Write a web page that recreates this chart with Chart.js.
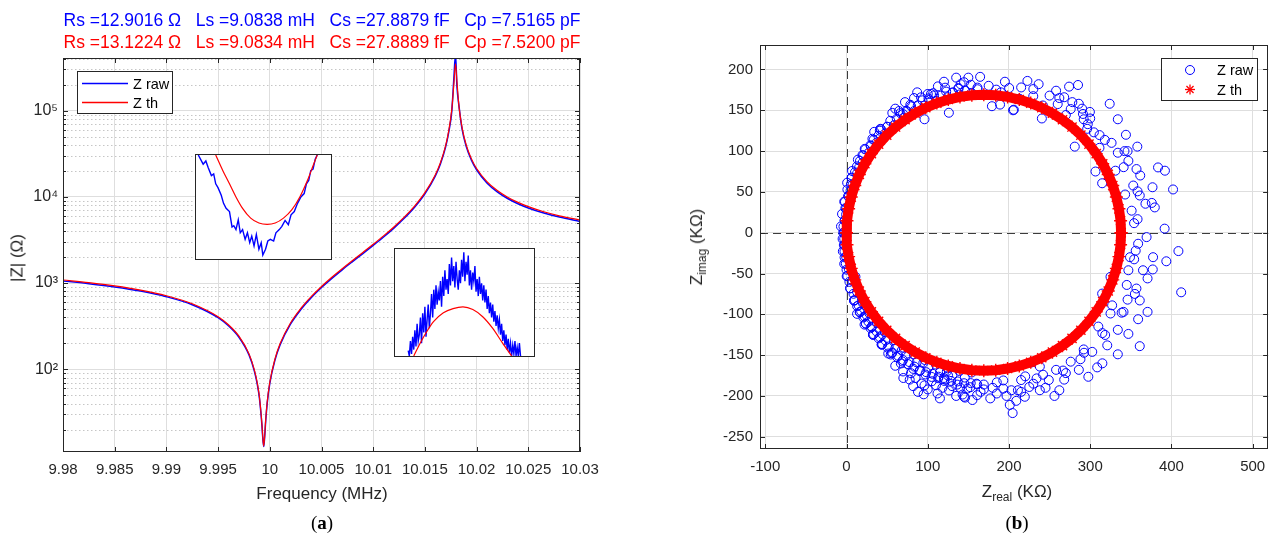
<!DOCTYPE html>
<html>
<head>
<meta charset="utf-8">
<script src="https://cdn.jsdelivr.net/npm/chart.js@4/dist/chart.umd.min.js"></script>
<style>
  body { margin: 0; width: 1276px; height: 542px; position: relative; overflow: hidden; background: #fff;
         font-family: "Liberation Sans", Arial, sans-serif; color: #262626; }
  canvas { position: absolute; }
  .txt { position: absolute; white-space: pre; line-height: 1; transform: translate(-50%, -50%); }
  .rot { transform: translate(-50%, -50%) rotate(-90deg); }
  .ttl { font-size: 17.5px; }
  .lbl { font-size: 17px; }
  .cap { font-family: "Liberation Serif", "DejaVu Serif", serif; font-size: 19px; color: #000; }
  .inset { position: absolute; box-sizing: border-box; border: 1px solid #262626; background: #fff; }
  .inset canvas { left: 0; top: 0; }
  sub { font-size: 12px; vertical-align: -4px; }
</style>
</head>
<body>
<canvas id="magChart" width="640" height="542" style="left:0;top:0"></canvas>
<canvas id="nyqChart" width="636" height="542" style="left:640px;top:0"></canvas>
<div class="inset" style="left:195px;top:154px;width:137px;height:106px"><canvas id="dipInset" width="135" height="104"></canvas></div>
<div class="inset" style="left:394px;top:248px;width:141px;height:109px"><canvas id="peakInset" width="139" height="107"></canvas></div>

<div class="txt ttl" style="left:322px;top:21px;color:#0000ff">Rs =12.9016 Ω   Ls =9.0838 mH   Cs =27.8879 fF   Cp =7.5165 pF</div>
<div class="txt ttl" style="left:322px;top:43px;color:#ff0000">Rs =13.1224 Ω   Ls =9.0834 mH   Cs =27.8889 fF   Cp =7.5200 pF</div>
<div class="txt lbl" style="left:322px;top:493px">Frequency (MHz)</div>
<div class="txt lbl rot" style="left:17px;top:258px">|Z| (Ω)</div>
<div class="txt cap" style="left:322px;top:522px">(<b>a</b>)</div>
<div class="txt lbl" style="left:1017px;top:493px">Z<sub>real</sub> (KΩ)</div>
<div class="txt lbl rot" style="left:698px;top:247px">Z<sub>imag</sub> (KΩ)</div>
<div class="txt cap" style="left:1017px;top:522px">(<b>b</b>)</div>

<script>
// ---- (a) |Z| versus frequency ----
const freqMHz = [9.98, 9.9825, 9.985, 9.9875, 9.99, 9.9925, 9.995, 9.996, 9.997, 9.998,
  9.9985, 9.9988, 9.999, 9.99925, 9.9993, 9.99941, 9.9995, 9.9996, 9.99975, 10.0,
  10.0005, 10.001, 10.002, 10.003, 10.004, 10.005, 10.006, 10.007, 10.008, 10.009,
  10.01, 10.011, 10.012, 10.013, 10.014, 10.015, 10.016, 10.0165, 10.017, 10.0173,
  10.0176, 10.0178, 10.01796, 10.0181, 10.0183, 10.0186, 10.019, 10.0195, 10.02, 10.021,
  10.022, 10.023, 10.024, 10.025, 10.0265, 10.028, 10.03];
const zTh = [1085, 1010, 926, 828, 713, 575, 407, 329, 244, 150,
  99, 68.5, 47.5, 22.2, 17.9, 12.9, 16.6, 25.5, 41.7, 70.8,
  132, 199, 344, 508, 696, 913, 1167, 1467, 1826, 2267,
  2818, 3527, 4476, 5805, 7807, 11166, 17953, 24849, 38962, 57800,
  103190, 202000, 347400, 216100, 110270, 63090, 39716, 27538, 21319, 15014,
  11824, 9900, 8613, 7690, 6712, 6026, 5377];
const zRaw = [1060, 985, 903, 808, 695, 561, 397, 320, 237, 146,
  96, 66, 46, 21.5, 17.3, 12.7, 16.2, 24.8, 40.5, 68.8,
  128, 193, 334, 493, 676, 887, 1133, 1424, 1773, 2200,
  2735, 3420, 4340, 5630, 7570, 10830, 17400, 24100, 37800, 56000,
  98000, 235000, 450000, 190000, 112000, 60500, 38300, 26600, 20600, 14500,
  11420, 9560, 8320, 7430, 6480, 5820, 5190];
const freqTicks = [9.98, 9.985, 9.99, 9.995, 10, 10.005, 10.01, 10.015, 10.02, 10.025, 10.03];
const decadeTicks = [100, 1000, 10000, 100000];

// insets (zoomed views, relative units 0..100)
const dipThX = [14.6, 19.9, 24.8, 29.6, 34.5, 40.5, 46.6, 52.7, 58.7, 64.8, 70.9, 76.9, 83, 86.7, 89.8];
const dipThY = [100, 84.9, 72.3, 59.7, 48.7, 39.3, 34.6, 33.3, 34.6, 39.3, 47.2, 59.7, 77, 89.6, 100];
const dipRawX = [1.7, 5.3, 7.3, 9, 11.4, 13.1, 14.6, 16.3, 18.7, 20.4, 22.3, 24.8, 26.7, 28, 29.6, 31.3,
  32.8, 34.5, 36.4, 38.1, 39.8, 41.3, 43, 44.7, 46.6, 48.3, 49.5, 51.5, 53.2, 55.1, 57.5, 59.2,
  61.7, 63.6, 66, 68.4, 70.4, 72.8, 75.2, 77.7, 80.1, 81.8, 83.5, 85, 86.7, 88.3, 89.8];
const dipRawY = [100, 91.2, 94.3, 88, 80.2, 81.8, 72.3, 68.6, 61.3, 53.5, 48.7, 45.6, 30.8, 32, 28.3, 37.7,
  25.2, 28.3, 18.9, 25.2, 15.7, 22, 12.6, 23.6, 9.4, 15.7, 3.8, 9.4, 17.3, 18.9, 17.3, 25.2,
  28.3, 31.4, 37.1, 33, 42.5, 45.6, 53.5, 59.7, 62.9, 72.3, 75.5, 84.9, 86.5, 95.9, 100];
const peakThX = [13.5, 18.2, 22.9, 27.7, 34.8, 41.8, 48.9, 56, 63.1, 70.2, 77.3, 83.9];
const peakThY = [0, 12.2, 22.9, 32.1, 40.4, 44.3, 45.9, 43.4, 36.7, 26, 12.2, 0];
const peakRawX = [9.5, 10.3, 11.1, 11.9, 12.7, 13.5, 14.3, 15.1, 15.9, 16.7, 17.5, 18.3, 19.1, 19.9, 20.7,
  21.5, 22.3, 23.1, 23.9, 24.7, 25.5, 26.3, 27.1, 27.9, 28.7, 29.5, 30.3, 31.1, 31.9, 32.7, 33.5, 34.3,
  35.1, 35.9, 36.7, 37.5, 38.3, 39.1, 39.9, 40.7, 41.5, 42.3, 43.1, 43.9, 44.7, 45.5, 46.3, 47.1, 47.9,
  48.7, 49.5, 50.3, 51.1, 51.9, 52.7, 53.5, 54.3, 55.1, 55.9, 56.7, 57.5, 58.3, 59.1, 59.9, 60.7, 61.5,
  62.3, 63.1, 63.9, 64.7, 65.5, 66.3, 67.1, 67.9, 68.7, 69.5, 70.3, 71.1, 71.9, 72.7, 73.5, 74.3, 75.1,
  75.9, 76.7, 77.5, 78.3, 79.1, 79.9, 80.7, 81.5, 82.3, 83.1, 83.9, 84.7, 85.5, 86.3, 87.1, 87.9, 88.7,
  89.5, 90.3];
const peakRawY = [5, 0, 14, 2, 18, 6, 24, 9, 30, 14, 20, 36, 12, 40, 22, 46, 18, 34, 48, 26,
  40, 58, 36, 62, 44, 66, 48, 60, 52, 70, 46, 74, 56, 80, 62, 72, 58, 86, 66, 92,
  70, 84, 64, 88, 72, 62, 80, 68, 90, 74, 97, 70, 88, 76, 94, 66, 80, 62, 78, 70,
  84, 60, 72, 56, 74, 58, 68, 52, 66, 50, 62, 44, 56, 40, 50, 36, 48, 32, 42, 28,
  38, 26, 34, 20, 30, 14, 24, 10, 20, 6, 16, 3, 12, 0, 10, 2, 14, 0, 8, 0, 12, 0];

// ---- (b) impedance plane, KOhm ----
const thRe = [338, 337.4, 335.4, 332.2, 327.8, 322.2, 315.4, 307.4, 298.5, 288.5, 277.6, 265.9, 253.5,
  240.4, 226.8, 212.7, 198.3, 183.7, 169, 154.3, 139.7, 125.3, 111.2, 97.6, 84.5, 72.1, 60.4, 49.5,
  39.5, 30.6, 22.6, 15.8, 10.2, 5.8, 2.6, 0.6, 0, 0.6, 2.6, 5.8, 10.2, 15.8, 22.6, 30.6, 39.5, 49.5,
  60.4, 72.1, 84.5, 97.6, 111.2, 125.3, 139.7, 154.3, 169, 183.7, 198.3, 212.7, 226.8, 240.4, 253.5,
  265.9, 277.6, 288.5, 298.5, 307.4, 315.4, 322.2, 327.8, 332.2, 335.4, 337.4, 338];
const thIm = [0, 14.7, 29.3, 43.7, 57.8, 71.4, 84.5, 96.9, 108.6, 119.5, 129.5, 138.4, 146.4, 153.2,
  158.8, 163.2, 166.4, 168.4, 169, 168.4, 166.4, 163.2, 158.8, 153.2, 146.4, 138.4, 129.5, 119.5,
  108.6, 96.9, 84.5, 71.4, 57.8, 43.7, 29.3, 14.7, 0, -14.7, -29.3, -43.7, -57.8, -71.4, -84.5,
  -96.9, -108.6, -119.5, -129.5, -138.4, -146.4, -153.2, -158.8, -163.2, -166.4, -168.4, -169,
  -168.4, -166.4, -163.2, -158.8, -153.2, -146.4, -138.4, -129.5, -119.5, -108.6, -96.9, -84.5,
  -71.4, -57.8, -43.7, -29.3, -14.7, 0];

const rawUpperLeft = [[-2.3,15.0],[-1.4,30.0],[1.9,44.8],[5.5,59.5],[10.4,74.0],[16.6,88.0],[23.2,102.1],
  [33.4,113.8],[41.7,127.3],[53.9,137.1],[64.6,149.1],[78.5,156.7],[91.7,165.9],[106.8,171.0],[121.4,177.7],
  [137.8,177.3],[153.1,181.3],[-0.5,22.3],[-1.9,37.9],[5,51.7],[6.4,67.4],[15.5,79.9],[19.7,95.1],
  [30.2,106.5],[34.1,123.6],[50.1,129.8],[56.4,146.8],[73.9,149.3],[83.1,165.0],[100.9,164.5],[112.5,179.3],
  [130.9,171.8],[144.7,184.4],[161.2,177.8],[41,125],[69.6,145.5],[100,170],[126,147],[140.5,182],[96,139],
  [104,170],[150,190],[120,185],[135,190],[87,172],[72,160],[60,152]];
const rawUpperRight = [[184.3,175.3],[200.2,177.3],[213,164.2],[229.9,167.3],[241.7,155.9],[260,157.6],
  [270,144.2],[291.1,145.5],[296.3,127.3],[311.5,119.6],[326.3,110.1],[342.2,100],[341.2,80.3],[361.6,70.1],
  [358.3,50.7],[375.8,36.5],[358.3,16.6],[164.5,191],[222.7,186],[236.5,182],[274,179],[285,181],[258,174],
  [268,166],[324,158],[334,139],[344,120],[358,105.5],[334,98],[346,100],[383.5,80],[392,76],[402,53],
  [306.5,75],[314.7,60.6],[376.7,55.7],[379.5,31],[391.6,5],[361,45.6],[353,57.8],[343,46.8],[351,27],
  [368,35.5],[357,78],[347,88],[331,76],[304.5,123],[318,113.7],[311.4,104],[297,133],[292,139],[299.6,148],
  [286,158],[276,151.5],[281,105.5],[240.5,140],[206,150.7],[179,155],[189,157],[205,150],[354,11.7],
  [175,180],[190,172],[215,178],[230,176],[250,168],[262,165],[278,160],[290,152],[300,140],[195,185]];
const rawLowerRight = [[369.4,-5.4],[408.6,-22.5],[393.7,-35],[377.4,-30],[412,-73],[349,-30],[359,-13.5],
  [356,-22],[347,-46],[365,-46],[377,-45],[370.6,-56],[345,-64],[355,-75],[361,-83],[370.6,-97],[359,-106],
  [346,-82],[347,-124],[361,-139],[334,-119],[327,-89],[341,-97],[325,-99],[310,-115],[315,-123],[321,-138],
  [334,-149],[315,-160],[308.6,-165],[302.5,-146],[292,-143],[288,-155],[297.7,-176.5],[286,-168],[276,-158],
  [270,-172],[268,-180],[262,-193],[256,-200],[258,-168],[249,-180.5],[238,-193],[225,-189],[219.5,-201],
  [209,-206],[204.5,-221],[201,-211],[211,-193],[215,-180.5],[227.6,-159],[238,-164],[242,-174],
  [354.1,-32.6],[356.9,-68.4],[338.7,-98],[318.4,-125.3],[292.4,-147.1],[266.5,-168.9],[234,-178.5],
  [203,-193],[325,-54],[314.7,-74.6],[197,-200],[215,-195],[230,-185],[245,-190],[220,-176]];
const rawLowerLeft = [[169,-192],[193,-191],[177,-203],[160.8,-199],[144.6,-201],[148.7,-191],[193,-181],
  [152.4,-189.3],[142.9,-198.3],[136.9,-182.2],[126.2,-193.3],[120.3,-181.6],[110.1,-186.9],[106.1,-172.9],
  [92.5,-184.8],[90.4,-168.6],[79.4,-172.1],[77.5,-158.5],[66.9,-160.2],[63.5,-150.7],[54.5,-149.2],
  [52,-139.4],[43.3,-137.1],[41,-128],[32.6,-125],[31.1,-115.7],[23.8,-111.4],[22.4,-102.7],[16.3,-97.3],
  [14.9,-89],[9.3,-83.1],[8.6,-74.8],[4.5,-68.1],[3.6,-60.2],[1.1,-52.9],[0,-45.3],[-0.9,-37.7],
  [-2.4,-30.2],[-2.5,-22.6],[-3.3,-15.1],[-2.8,-7.5],[-4,0],[-3.8,7.5],[77.8,-180],[112,-197],[146,-202],
  [96,-187],[69.6,-170],[51.4,-148],[31,-115],[19,-83],[11,-54],[120,-178],[85,-178],[100,-192],
  [130,-188],[115,-203],[60,-163],[88,-195],[70,-178],[82,-188],[95,-198],[105,-182],[118,-190],
  [135,-200],[155,-205],[165,-195],[185,-197],[125,-175],[140,-190],[160,-185],[180,-190]];
// dense band hugging the left half of the circle
const rawBandUpper = [[154,171.3],[139.1,169.4],[124.5,166.1],[110.2,161.6],[96.3,155.9],[83,149],
  [70.3,140.9],[58.4,131.8],[47.4,121.6],[37.2,110.6],[28.1,98.7],[20,86],[13.1,72.7],[7.4,58.8],
  [2.9,44.5],[-0.4,29.9],[-2.3,15],[-3,0],[161.3,175.8],[146,174.5],[130.9,171.8],[116.1,167.9],
  [101.6,162.6],[87.7,156.1],[74.4,148.4],[61.9,139.6],[50.1,129.8],[39.2,118.9],[29.4,107.1],
  [20.6,94.6],[12.9,81.3],[6.4,67.4],[1.1,52.9],[-2.8,38.1],[-5.5,23],[-6.8,7.7],
  [137.9,176.3],[122.7,172.9],[107.8,168.2],[93.4,162.2],[79.5,155],[66.3,146.6],[42.4,126.6],
  [31.9,115.1],[22.4,102.7],[14,89.5],[6.8,75.6],[0.8,61.2]];
const rawBandLower = [[-2.3,-15],[-0.4,-29.9],[2.9,-44.5],[7.4,-58.8],[13.1,-72.7],[20,-86],[28.1,-98.7],
  [37.2,-110.6],[47.4,-121.6],[58.4,-131.8],[70.3,-140.9],[83,-149],[96.3,-155.9],[110.2,-161.6],
  [124.5,-166.1],[139.1,-169.4],[154,-171.3],[-4.8,-7.6],[-4.5,-22.8],[-2.8,-38.1],[0.2,-53.2],
  [4.5,-68.1],[9.3,-83.1],[16.3,-97.3],[23.8,-111.4],[33.3,-124.3],[43.3,-137.1],[55.8,-147.6],
  [68.5,-157.7],[82.2,-166.8],[97.1,-173.7],[112.8,-178.3],[128.7,-181.6],[144.7,-184.4],[160.9,-185.8],
  [13.1,-90],[20.7,-103.8],[29.6,-117],[39.6,-129.4],[50.7,-140.9],[62.3,-152.4],[76,-161.1],
  [90,-169.5],[104.7,-176.7],[120.9,-179.7],[136.2,-186.1],[152.9,-184.3],[169,-186],[185,-183.3],
  [10.2,-82.6],[18,-96.2],[27,-109],[37,-120.9],[48.1,-132],[60,-142],[72.8,-151],[86.4,-158.8],
  [100.5,-165.4],[115.2,-170.7],[130.3,-174.8],[145.6,-177.5],
  [13,-99.4],[22.2,-112.6],[32.6,-125],[44,-136.4],[56.4,-146.8],[69.6,-156],[83.6,-164.1],
  [98.2,-170.9],[113.4,-176.4],[24.8,-101],[44.5,-124.5],[68,-144.2],[94.6,-159.5],[123.5,-170]];
const reTicks = [-100, 0, 100, 200, 300, 400, 500];
const imTicks = [-250, -200, -150, -100, -50, 0, 50, 100, 150, 200];

const BLUE = '#0000ff';
const RED = '#ff0000';
const AXIS = '#262626';
const GRID = '#dedede';

Chart.defaults.font.family = '"Liberation Sans", Arial, sans-serif';
Chart.defaults.font.size = 15;
Chart.defaults.color = AXIS;

const SUP = { 1: '\u00b9', 2: '\u00b2', 3: '\u00b3', 4: '\u2074', 5: '\u2075' };

function pts(xs, ys) {
  return xs.map((x, i) => ({ x: x, y: ys[i] }));
}

function line(ctx, x1, y1, x2, y2) {
  ctx.beginPath();
  ctx.moveTo(x1, y1);
  ctx.lineTo(x2, y2);
  ctx.stroke();
}

// matlab-like box: inward ticks, dotted minor log grid, dashed zero lines
const frame = {
  id: 'frame',
  beforeDatasetsDraw(chart, args, opts) {
    const { ctx, chartArea: a } = chart;
    const y = chart.scales.y;
    ctx.save();
    ctx.lineWidth = 1;
    if (opts.minorLog) {
      ctx.strokeStyle = '#c6c6c6';
      ctx.setLineDash([1.5, 2.5]);
      for (let e = 1; e <= 5; e++) {
        for (let k = 2; k <= 9; k++) {
          const v = k * Math.pow(10, e);
          if (v < y.min || v > y.max) continue;
          const py = Math.round(y.getPixelForValue(v)) + 0.5;
          line(ctx, a.left, py, a.right, py);
        }
      }
    }
    if (opts.zeroLines) {
      ctx.strokeStyle = '#3c3c3c';
      ctx.setLineDash([8, 5]);
      const px = Math.round(chart.scales.x.getPixelForValue(0)) + 0.5;
      const py = Math.round(y.getPixelForValue(0)) + 0.5;
      line(ctx, px, a.top, px, a.bottom);
      line(ctx, a.left, py, a.right, py);
    }
    ctx.restore();
  },
  afterDatasetsDraw(chart, args, opts) {
    const { ctx, chartArea: a } = chart;
    const x = chart.scales.x, y = chart.scales.y;
    ctx.save();
    ctx.strokeStyle = AXIS;
    ctx.lineWidth = 1;
    x.ticks.forEach(t => {
      const px = Math.round(x.getPixelForValue(t.value)) + 0.5;
      line(ctx, px, a.bottom, px, a.bottom - 5);
      line(ctx, px, a.top, px, a.top + 5);
    });
    y.ticks.forEach(t => {
      const py = Math.round(y.getPixelForValue(t.value)) + 0.5;
      line(ctx, a.left, py, a.left + 5, py);
      line(ctx, a.right, py, a.right - 5, py);
    });
    if (opts.minorLog) {
      for (let e = 1; e <= 5; e++) {
        for (let k = 2; k <= 9; k++) {
          const v = k * Math.pow(10, e);
          if (v < y.min || v > y.max) continue;
          const py = Math.round(y.getPixelForValue(v)) + 0.5;
          line(ctx, a.left, py, a.left + 3, py);
          line(ctx, a.right, py, a.right - 3, py);
        }
      }
    }
    ctx.strokeRect(Math.round(a.left) + 0.5, Math.round(a.top) + 0.5,
      Math.round(a.right - a.left) - 1, Math.round(a.bottom - a.top) - 1);
    ctx.restore();
  }
};

function marker(ctx, kind, cx, cy, color) {
  ctx.strokeStyle = color;
  if (kind === 'line') {
    ctx.lineWidth = 1.3;
    line(ctx, cx - 23, cy, cx + 23, cy);
  } else if (kind === 'circle') {
    ctx.lineWidth = 1;
    ctx.beginPath();
    ctx.arc(cx, cy, 4.5, 0, Math.PI * 2);
    ctx.stroke();
  } else {
    ctx.lineWidth = 1.3;
    const r = 5, d = r * Math.SQRT1_2;
    line(ctx, cx - r, cy, cx + r, cy);
    line(ctx, cx, cy - r, cx, cy + r);
    line(ctx, cx - d, cy - d, cx + d, cy + d);
    line(ctx, cx - d, cy + d, cx + d, cy - d);
  }
}

const boxLegend = {
  id: 'boxLegend',
  afterDraw(chart, args, o) {
    const { ctx, chartArea: a } = chart;
    const left = Math.round(o.fromRight ? a.right - o.dx : a.left + o.dx);
    const top = Math.round(a.top + o.dy);
    ctx.save();
    ctx.fillStyle = '#fff';
    ctx.fillRect(left, top, o.w, o.h);
    ctx.strokeStyle = AXIS;
    ctx.lineWidth = 1;
    ctx.strokeRect(left + 0.5, top + 0.5, o.w - 1, o.h - 1);
    o.rows.forEach(r => {
      marker(ctx, r.kind, left + o.markX, top + r.dy, r.color);
      ctx.fillStyle = '#000';
      ctx.font = '14.5px "Liberation Sans", Arial, sans-serif';
      ctx.textBaseline = 'middle';
      ctx.fillText(r.text, left + o.textX, top + r.dy + 1);
    });
    ctx.restore();
  }
};

new Chart(document.getElementById('magChart'), {
  type: 'line',
  data: {
    datasets: [
      { label: 'Z raw', data: pts(freqMHz, zRaw), borderColor: BLUE, borderWidth: 1.5,
        pointRadius: 0, cubicInterpolationMode: 'monotone', order: 2 },
      { label: 'Z th', data: pts(freqMHz, zTh), borderColor: RED, borderWidth: 1.2,
        pointRadius: 0, cubicInterpolationMode: 'monotone', order: 1 }
    ]
  },
  options: {
    responsive: false,
    animation: false,
    layout: { padding: { top: 58, right: 60, left: 0, bottom: 0 } },
    plugins: {
      legend: { display: false },
      tooltip: { enabled: false },
      frame: { minorLog: true },
      boxLegend: {
        dx: 14, dy: 13, w: 96, h: 43, markX: 28, textX: 56,
        rows: [
          { text: 'Z raw', kind: 'line', color: BLUE, dy: 12.5 },
          { text: 'Z th', kind: 'line', color: RED, dy: 31.5 }
        ]
      }
    },
    scales: {
      x: {
        type: 'linear', min: 9.98, max: 10.03,
        afterFit: s => { s.height = 90; },
        afterBuildTicks: s => { s.ticks = freqTicks.map(v => ({ value: v })); },
        ticks: { autoSkip: false, maxRotation: 0, padding: 9, callback: v => String(+v.toFixed(3)) },
        grid: { color: GRID, drawTicks: false },
        border: { display: false }
      },
      y: {
        type: 'logarithmic', min: 11, max: 4.07e5,
        afterFit: s => { s.width = 63; },
        afterBuildTicks: s => { s.ticks = decadeTicks.map(v => ({ value: v })); },
        ticks: { autoSkip: false, padding: 5, font: { size: 16 },
                 callback: v => '10' + SUP[Math.round(Math.log10(v))] },
        grid: { color: GRID, drawTicks: false },
        border: { display: false }
      }
    }
  },
  plugins: [frame, boxLegend]
});

function insetChart(id, thX, thY, rawX, rawY) {
  new Chart(document.getElementById(id), {
    type: 'line',
    data: {
      datasets: [
        { data: pts(rawX, rawY), borderColor: BLUE, borderWidth: 1.4, pointRadius: 0, order: 2 },
        { data: pts(thX, thY), borderColor: RED, borderWidth: 1.2, pointRadius: 0,
          cubicInterpolationMode: 'monotone', order: 1 }
      ]
    },
    options: {
      responsive: false,
      animation: false,
      layout: { padding: 0 },
      plugins: { legend: { display: false }, tooltip: { enabled: false } },
      scales: {
        x: { type: 'linear', display: false, min: 0, max: 100 },
        y: { type: 'linear', display: false, min: 0, max: 100 }
      }
    }
  });
}
insetChart('dipInset', dipThX, dipThY, dipRawX, dipRawY);
insetChart('peakInset', peakThX, peakThY, peakRawX, peakRawY);

const rawPts = rawBandUpper.concat(rawBandLower, rawUpperLeft, rawUpperRight, rawLowerRight, rawLowerLeft);

new Chart(document.getElementById('nyqChart'), {
  type: 'scatter',
  data: {
    datasets: [
      { label: 'Z th', data: pts(thRe, thIm), showLine: true, borderColor: RED, borderWidth: 10,
        pointStyle: 'star', pointRadius: 6.5, pointBorderWidth: 1.4, pointBorderColor: RED, order: 1 },
      { label: 'Z raw', data: rawPts.map(p => ({ x: p[0], y: p[1] })), pointStyle: 'circle',
        pointRadius: 4.5, pointBorderWidth: 1, pointBorderColor: BLUE,
        pointBackgroundColor: 'rgba(0,0,0,0)', order: 2 }
    ]
  },
  options: {
    responsive: false,
    animation: false,
    layout: { padding: { top: 45, right: 3, left: 0, bottom: 0 } },
    plugins: {
      legend: { display: false },
      tooltip: { enabled: false },
      frame: { zeroLines: true },
      boxLegend: {
        fromRight: true, dx: 107, dy: 13, w: 97, h: 43, markX: 29, textX: 56,
        rows: [
          { text: 'Z raw', kind: 'circle', color: BLUE, dy: 12 },
          { text: 'Z th', kind: 'star', color: RED, dy: 31.5 }
        ]
      }
    },
    scales: {
      x: {
        type: 'linear', min: -106.5, max: 519,
        afterFit: s => { s.height = 93; },
        afterBuildTicks: s => { s.ticks = reTicks.map(v => ({ value: v })); },
        ticks: { autoSkip: false, maxRotation: 0, padding: 9 },
        grid: { color: GRID, drawTicks: false },
        border: { display: false }
      },
      y: {
        type: 'linear', min: -265, max: 230,
        afterFit: s => { s.width = 120; },
        afterBuildTicks: s => { s.ticks = imTicks.map(v => ({ value: v })); },
        ticks: { autoSkip: false, padding: 7 },
        grid: { color: GRID, drawTicks: false },
        border: { display: false }
      }
    }
  },
  plugins: [frame, boxLegend]
});
</script>
</body>
</html>
